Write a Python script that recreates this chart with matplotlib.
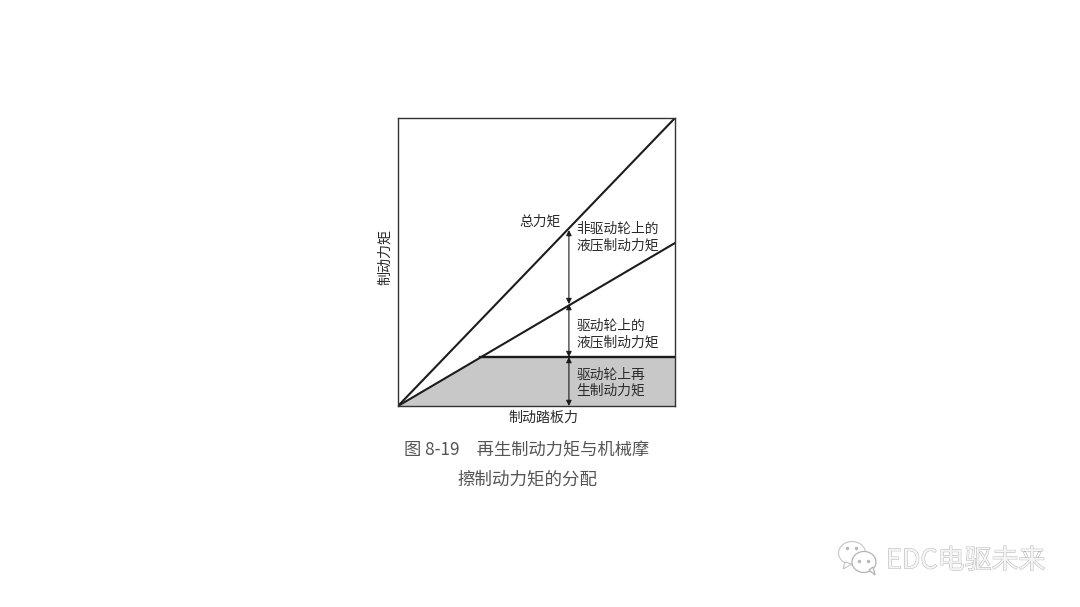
import matplotlib
matplotlib.use('Agg')
from matplotlib import pyplot as plt
from matplotlib import patheffects
from matplotlib.patches import Ellipse, Polygon
import numpy as np

plt.rcParams['font.family'] = ['Noto Sans CJK SC', 'DejaVu Sans']

pedal = [0.0, 0.296, 1.0]
total_torque = [0.0, 0.296, 1.0]
front_torque = [0.0, 0.17, 0.566]
regen_torque = [0.0, 0.17, 0.17]

arrow_x = 0.617
arrow_levels = [0.0, 0.17, 0.354, 0.611]

ink = '#1c1c1c'
grey = '#c8c8c8'
text_col = '#2a2a2a'

fig = plt.figure(figsize=(10.8, 6.07), dpi=100)
ax = fig.add_axes([398 / 1080, 1 - 406 / 607, 277 / 1080, 288 / 607])
ax.set_xlim(0, 1)
ax.set_ylim(0, 1)
ax.set_xticks([])
ax.set_yticks([])
for spine in ax.spines.values():
    spine.set_linewidth(1.0)
    spine.set_color('#333333')

ax.fill_between(pedal, 0, regen_torque, color=grey, lw=0)
ax.plot(pedal, total_torque, color=ink, lw=1.5)
ax.plot([pedal[0], pedal[2]], [front_torque[0], front_torque[2]], color=ink, lw=1.5)
ax.plot(pedal[1:], regen_torque[1:], color=ink, lw=1.7)

for low, high in zip(arrow_levels[:-1], arrow_levels[1:]):
    ax.annotate('', xy=(arrow_x, low), xytext=(arrow_x, high),
                arrowprops=dict(arrowstyle='<|-|>', color=ink, lw=0.8, shrinkA=0, shrinkB=0,
                                mutation_scale=8))

labels = [
    (0.440, 0.642, '总力矩', 'left'),
    (0.645, 0.587, '非驱动轮上的\n液压制动力矩', 'left'),
    (0.645, 0.249, '驱动轮上的\n液压制动力矩', 'left'),
    (0.645, 0.081, '驱动轮上再\n生制动力矩', 'left'),
]
for x, y, label, ha in labels:
    ax.text(x, y, label, ha=ha, va='center', fontsize=9.9, color=text_col, linespacing=1.22)

fig.text(543 / 1080, 1 - 418 / 607, '制动踏板力', ha='center', va='center', fontsize=10.1, color=text_col)
fig.text(385 / 1080, 1 - 257 / 607, '制动力矩', ha='center', va='center', rotation=90,
         fontsize=10.1, color=text_col)

fig.text(527 / 1080, 1 - 450 / 607, '图 8-19　再生制动力矩与机械摩', ha='center', va='center',
         fontsize=12.4, color='#555555')
fig.text(527 / 1080, 1 - 479 / 607, '擦制动力矩的分配', ha='center', va='center',
         fontsize=12.6, color='#555555')

# watermark, white text with a thin grey edge
mark = fig.text(886 / 1080, 1 - 561 / 607, 'EDC电驱未来', ha='left', va='center',
                fontsize=19.4, color='#f4f4f4')
mark.set_path_effects([patheffects.withStroke(linewidth=0.6, foreground='#b0b0b0')])

overlay = fig.add_axes([0, 0, 1, 1], facecolor='none')
overlay.set_xlim(0, 1080)
overlay.set_ylim(607, 0)
overlay.axis('off')
overlay.add_patch(Ellipse((852, 553), 27, 23, fc='white', ec='#c4c4c4', lw=0.8))
overlay.add_patch(Polygon([[845, 562], [843, 569], [852, 564]], fc='white', ec='#c4c4c4', lw=0.8))
overlay.add_patch(Ellipse((864, 562), 24, 21, fc='white', ec='#b4b4b4', lw=0.9))
overlay.add_patch(Polygon([[869, 570], [875, 575], [873, 567]], fc='white', ec='#b4b4b4', lw=0.9))
overlay.plot(np.array([847, 856, 859, 868]), np.array([548, 548, 561, 561]), ls='none',
             marker='o', ms=1.5, color='#b8b8b8')

fig.savefig('out.png', dpi=100, facecolor='white')
